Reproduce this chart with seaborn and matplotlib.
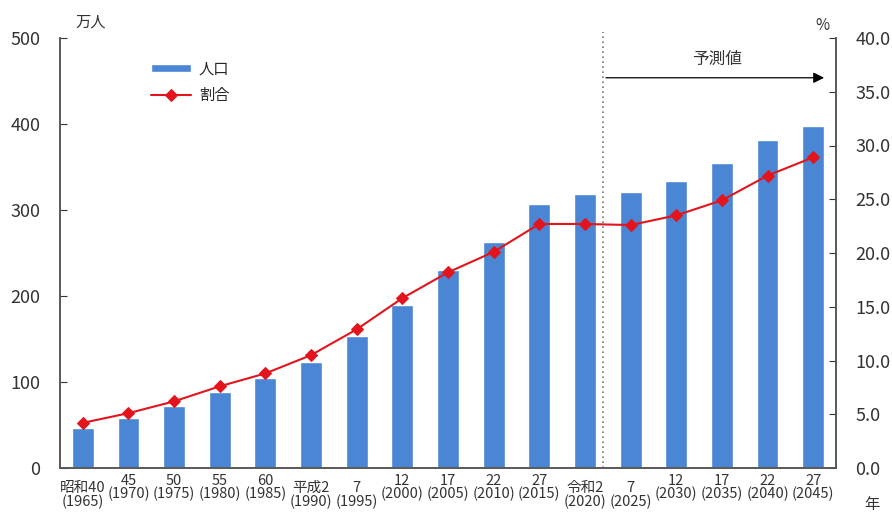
import numpy as np
import pandas as pd
import matplotlib
matplotlib.use("Agg")
import matplotlib.pyplot as plt
import seaborn as sns

# data
years = ["昭和40\n(1965)", "45\n(1970)", "50\n(1975)", "55\n(1980)", "60\n(1985)",
         "平成2\n(1990)", "7\n(1995)", "12\n(2000)", "17\n(2005)", "22\n(2010)",
         "27\n(2015)", "令和2\n(2020)", "7\n(2025)", "12\n(2030)", "17\n(2035)",
         "22\n(2040)", "27\n(2045)"]
population = [47, 58, 72, 88, 105, 123, 153, 190, 230, 263, 307, 319, 321, 334, 355, 381, 398]
ratio = [4.2, 5.1, 6.2, 7.6, 8.8, 10.5, 12.9, 15.8, 18.2, 20.1, 22.7, 22.7, 22.6, 23.5, 24.9, 27.2, 28.9]

BAR_COLOR = "#4a86d4"
LINE_COLOR = "#e3141c"

sns.set_style("white")
plt.rcParams["font.family"] = ["Noto Sans CJK JP", "DejaVu Sans"]

df = pd.DataFrame({"year": years, "population": population, "ratio": ratio})

fig = plt.figure(figsize=(8.92, 5.13), dpi=100)
ax = fig.add_axes([60 / 892, 45 / 513, 776 / 892, 430 / 513])

sns.barplot(data=df, x="year", y="population", color=BAR_COLOR, width=0.48,
            saturation=1, ax=ax, label="人口")
ax.set_xlim(-0.5, len(years) - 0.5)
ax.set_ylim(0, 500)
ax.set_yticks([0, 100, 200, 300, 400, 500])
ax.set_xlabel("")
ax.set_ylabel("")

ax2 = ax.twinx()
sns.lineplot(x=np.arange(len(years)), y=df["ratio"], ax=ax2, color=LINE_COLOR,
             marker="D", markersize=6, markeredgecolor=LINE_COLOR, linewidth=1.5,
             label="割合", legend=False)
ax2.set_ylim(0, 40)
ax2.set_yticks(np.arange(0, 41, 5))
ax2.set_yticklabels([f"{v:.1f}" for v in np.arange(0, 41, 5)])
ax2.set_ylabel("")

# axis styling
for a in (ax, ax2):
    a.spines["top"].set_visible(False)
    for s in ("left", "right", "bottom"):
        a.spines[s].set_color("#595959")
        a.spines[s].set_linewidth(1.2)
ax.tick_params(axis="y", direction="in", length=5, labelsize=13, pad=14, colors="#333333")
ax2.tick_params(axis="y", direction="in", length=5, labelsize=13, pad=14, colors="#333333")
ax.tick_params(axis="x", length=0, labelsize=10.5, pad=4, colors="#333333")

# some tick labels sit a little lower in the original
for i, lbl in enumerate(ax.get_xticklabels()):
    lbl.set_linespacing(0.95)
    if i in (0, 5, 6, 11, 12):
        lbl.set_y(-0.018)

# unit labels
fig.text(75 / 892, 1 - 22 / 513, "万人", fontsize=11, ha="left", va="center", color="#333333")
fig.text(822 / 892, 1 - 25 / 513, "%", fontsize=11, ha="center", va="center", color="#333333")
fig.text(872 / 892, 1 - 505 / 513, "年", fontsize=11, ha="center", va="center", color="#333333")

# forecast marker
ax2.plot([11.4, 11.4], [0, 40.6], linestyle=(0, (1, 2)), color="#777777", linewidth=1.2,
         clip_on=False)
ax2.annotate("", xy=(16.3, 36.3), xytext=(11.4, 36.3),
             arrowprops=dict(arrowstyle="-|>", color="black", lw=0.9, mutation_scale=16))
ax2.text(13.9, 38.0, "予測値", fontsize=12, ha="center", va="center", color="#333333")

# legend
h1, l1 = ax.get_legend_handles_labels()
h2, l2 = ax2.get_legend_handles_labels()
leg = ax.legend(h1 + h2, l1 + l2, loc="upper left", bbox_to_anchor=(0.1, 0.98),
                frameon=False, fontsize=11, handlelength=2.6, handleheight=0.5,
                labelspacing=0.6, handletextpad=0.5)

fig.savefig("out.png", dpi=100)
